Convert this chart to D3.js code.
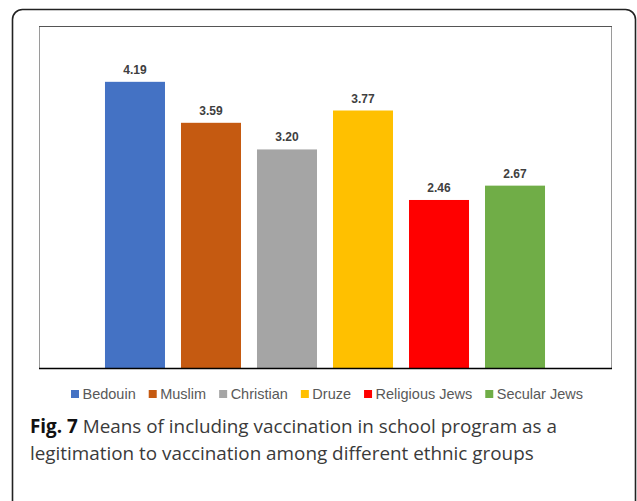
<!DOCTYPE html>
<html>
<head>
<meta charset="utf-8">
<script src="https://cdn.jsdelivr.net/npm/d3@7"></script>
<style>
  body { margin: 0; background: #fff; }
  svg { display: block; }
</style>
</head>
<body>
<div id="chart"></div>
<script>
// data
var groups = ["Bedouin", "Muslim", "Christian", "Druze", "Religious Jews", "Secular Jews"];
var means = [4.19, 3.59, 3.20, 3.77, 2.46, 2.67];
var colors = ["#4472C4", "#C55A11", "#A5A5A5", "#FFC000", "#FF0000", "#70AD47"];
var captionBold = "Fig. 7";
var captionLines = [
  " Means of including vaccination in school program as a",
  "legitimation to vaccination among different ethnic groups"
];

var svgWidth = 637;
var svgHeight = 501;

var svg = d3.select("#chart")
  .append("svg")
  .attr("width", svgWidth)
  .attr("height", svgHeight);

// outer rounded frame (open at the bottom of the page)
svg.append("rect")
  .attr("x", 12.5)
  .attr("y", 9.5)
  .attr("width", 623)
  .attr("height", 520)
  .attr("rx", 10)
  .attr("fill", "none")
  .attr("stroke", "#222")
  .attr("stroke-width", 1.6);

// chart area box
var box = { left: 39, top: 26, right: 611, bottom: 368 };

svg.append("rect")
  .attr("x", box.left + 0.5)
  .attr("y", box.top + 0.5)
  .attr("width", box.right - box.left)
  .attr("height", box.bottom - box.top)
  .attr("fill", "none")
  .attr("stroke", "#9a9a9a")
  .attr("stroke-width", 1);

svg.append("line")
  .attr("x1", box.left)
  .attr("x2", box.right + 1)
  .attr("y1", box.top + 0.5)
  .attr("y2", box.top + 0.5)
  .attr("stroke", "#555");

var xScale = d3.scaleBand()
  .domain(groups)
  .range([97, 553])
  .paddingInner(0.2105)
  .paddingOuter(0.105);

var yScale = d3.scaleLinear()
  .domain([0, 5])
  .range([box.bottom, box.bottom - 341.5]);

var rows = groups.map((g, i) => ({ group: g, value: means[i], color: colors[i] }));

svg.selectAll(".bar")
  .data(rows)
  .enter()
  .append("rect")
  .attr("class", "bar")
  .attr("x", d => xScale(d.group))
  .attr("y", d => yScale(d.value))
  .attr("width", xScale.bandwidth())
  .attr("height", d => yScale(0) - yScale(d.value))
  .attr("fill", d => d.color);

svg.selectAll(".val")
  .data(rows)
  .enter()
  .append("text")
  .attr("class", "val")
  .attr("x", d => xScale(d.group) + xScale.bandwidth() / 2)
  .attr("y", d => yScale(d.value) - 8)
  .attr("text-anchor", "middle")
  .attr("font-family", "Liberation Sans, Arial, sans-serif")
  .attr("font-weight", "bold")
  .attr("font-size", 12)
  .attr("fill", "#404040")
  .text(d => d.value.toFixed(2));

// baseline axis
svg.append("line")
  .attr("x1", box.left)
  .attr("x2", box.right + 1)
  .attr("y1", box.bottom + 0.5)
  .attr("y2", box.bottom + 0.5)
  .attr("stroke", "#000")
  .attr("stroke-width", 1.5);

// legend
var legend = svg.append("g");
var lx = 0;
var items = legend.selectAll("g")
  .data(rows)
  .enter()
  .append("g");

items.append("rect")
  .attr("width", 8)
  .attr("height", 8)
  .attr("y", -8)
  .attr("fill", d => d.color);

items.append("text")
  .attr("x", 11.5)
  .attr("y", 0)
  .attr("dy", "0.1em")
  .attr("font-family", "Liberation Sans, Arial, sans-serif")
  .attr("font-size", 14.5)
  .attr("fill", "#595959")
  .text(d => d.group);

items.each(function() {
  var w = this.getBBox().width;
  d3.select(this).attr("transform", `translate(${lx}, 0)`);
  lx += w + 13;
});
var legendW = lx - 13;
legend.attr("transform", `translate(${327 - legendW / 2}, 398)`);

// caption
var cap = svg.append("g")
  .attr("font-family", "Open Sans, Noto Sans, sans-serif")
  .attr("font-size", 17.5)
  .attr("fill", "#3a3a3a");

var line1 = cap.append("text")
  .attr("x", 30)
  .attr("y", 433);
line1.append("tspan")
  .attr("font-weight", "bold")
  .attr("fill", "#111")
  .text(captionBold);
line1.append("tspan")
  .text(captionLines[0]);

var line2 = cap.append("text")
  .attr("x", 30)
  .attr("y", 460)
  .text(captionLines[1]);

// the original caption face is wider; size it so line 1 spans the same width
var w1 = line1.node().getComputedTextLength();
cap.attr("font-size", 17.5 * 527 / w1);
</script>
</body>
</html>
